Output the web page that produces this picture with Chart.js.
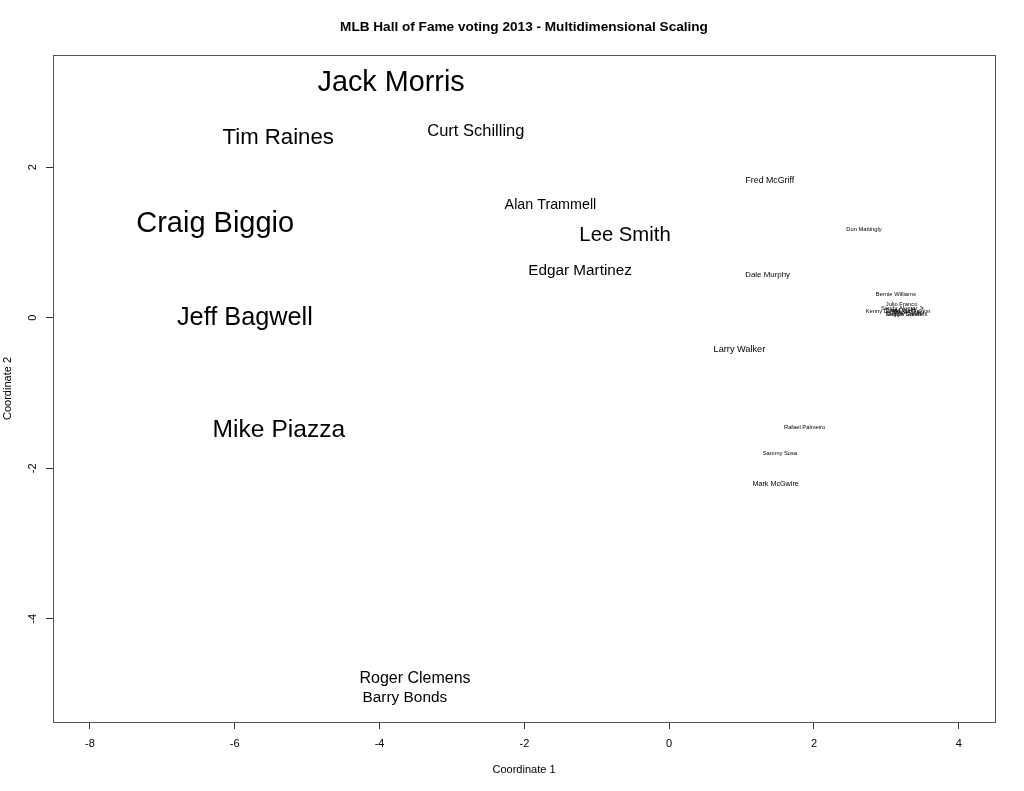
<!DOCTYPE html>
<html>
<head>
<meta charset="utf-8">
<title>MLB Hall of Fame voting 2013 - Multidimensional Scaling</title>
<script src="https://cdn.jsdelivr.net/npm/chart.js@4.4.1/dist/chart.umd.min.js"></script>
<style>
    html, body { margin: 0; padding: 0; background: #fff; }
    #wrap { width: 1024px; height: 791px; }
</style>
</head>
<body>
<div id="wrap"><canvas id="mdsChart" width="1024" height="791"></canvas></div>
<script>
// players on the 2013 ballot, MDS coordinates and vote share (%)
const players = [
    'Craig Biggio', 'Jack Morris', 'Jeff Bagwell', 'Mike Piazza', 'Tim Raines',
    'Lee Smith', 'Curt Schilling', 'Roger Clemens', 'Barry Bonds', 'Edgar Martinez',
    'Alan Trammell', 'Larry Walker', 'Fred McGriff', 'Dale Murphy', 'Mark McGwire',
    'Don Mattingly', 'Sammy Sosa', 'Rafael Palmeiro', 'Bernie Williams', 'Kenny Lofton',
    'Sandy Alomar Jr.', 'Julio Franco', 'David Wells', 'Steve Finley', 'Shawn Green',
    'Reggie Sanders', 'Royce Clayton'
];
const coord1 = [
    -6.27, -3.84, -5.86, -5.39, -5.40,
    -0.61, -2.67, -3.51, -3.65, -1.23,
    -1.64, 0.97, 1.39, 1.36, 1.47,
    2.69, 1.53, 1.87, 3.13, 2.95,
    3.23, 3.21, 3.20, 3.30, 3.24,
    3.28, 3.35
];
const coord2 = [
    1.29, 3.16, 0.03, -1.46, 2.42,
    1.12, 2.50, -4.77, -5.03, 0.65,
    1.51, -0.41, 1.83, 0.58, -2.20,
    1.18, -1.79, -1.45, 0.32, 0.09,
    0.13, 0.19, 0.11, 0.08, 0.05,
    0.05, 0.09
];
const votes = [
    68.2, 67.7, 59.6, 57.8, 52.2,
    47.8, 38.8, 37.6, 36.2, 35.9,
    33.6, 21.6, 20.7, 18.6, 16.9,
    13.2, 12.5, 8.8, 3.3, 3.2,
    2.8, 1.1, 0.9, 0.7, 0.4,
    0.2, 0.0
];
const xTicks = [-8, -6, -4, -2, 0, 2, 4];
const yTicks = [-4, -2, 0, 2];
const chartTitle = 'MLB Hall of Fame voting 2013 - Multidimensional Scaling';

const FONT = '"Liberation Sans", Arial, Helvetica, sans-serif';

// label size follows the vote share, with a floor for the small ones
function labelSize(v) {
    return Math.max(5.8, v * 0.425);
}

// draw names where the points are, the box around the plot and the title
const namePlugin = {
    id: 'names',
    afterDatasetsDraw(chart) {
        const ctx = chart.ctx;
        const meta = chart.getDatasetMeta(0);
        ctx.save();
        ctx.fillStyle = '#000';
        ctx.textAlign = 'center';
        ctx.textBaseline = 'middle';
        meta.data.forEach((pt, i) => {
            const size = labelSize(votes[i]);
            ctx.font = size.toFixed(1) + 'px ' + FONT;
            ctx.fillText(players[i], pt.x, pt.y + size * 0.1);
        });
        const a = chart.chartArea;
        ctx.strokeStyle = '#555';
        ctx.lineWidth = 1;
        ctx.strokeRect(a.left + 0.5, a.top + 0.5, a.right - a.left, a.bottom - a.top);

        // title centred over the plot region
        ctx.font = 'bold 13.6px ' + FONT;
        ctx.fillText(chartTitle, (a.left + a.right) / 2, 27);
        ctx.restore();
    }
};

const ctx = document.getElementById('mdsChart').getContext('2d');
new Chart(ctx, {
    type: 'scatter',
    data: {
        datasets: [{
            label: 'Players',
            data: players.map((p, i) => ({ x: coord1[i], y: coord2[i] })),
            pointRadius: 0,
            pointHoverRadius: 0
        }]
    },
    options: {
        responsive: false,
        animation: false,
        events: [],
        layout: { padding: { left: 0, right: 29, top: 55, bottom: 0 } },
        plugins: {
            legend: { display: false },
            tooltip: { enabled: false },
            title: { display: false }
        },
        scales: {
            x: {
                type: 'linear',
                min: -8.51,
                max: 4.50,
                afterBuildTicks: scale => { scale.ticks = xTicks.map(v => ({ value: v })); },
                afterFit: scale => { scale.height = 69; },
                ticks: {
                    color: '#000',
                    font: { family: FONT, size: 11 },
                    padding: 8,
                    maxRotation: 0
                },
                grid: {
                    drawOnChartArea: false,
                    drawTicks: true,
                    tickLength: 7,
                    color: '#333'
                },
                border: { display: false },
                title: {
                    display: true,
                    text: 'Coordinate 1',
                    color: '#000',
                    font: { family: FONT, size: 11 },
                    padding: { top: 0, bottom: 14 }
                }
            },
            y: {
                type: 'linear',
                min: -5.37,
                max: 3.49,
                afterBuildTicks: scale => { scale.ticks = yTicks.map(v => ({ value: v })); },
                afterFit: scale => { scale.width = 53; },
                ticks: {
                    color: '#000',
                    font: { family: FONT, size: 11 },
                    padding: 8,
                    minRotation: 90,
                    maxRotation: 90,
                    crossAlign: 'center'
                },
                grid: {
                    drawOnChartArea: false,
                    drawTicks: true,
                    tickLength: 7,
                    color: '#333'
                },
                border: { display: false },
                title: {
                    display: true,
                    text: 'Coordinate 2',
                    color: '#000',
                    font: { family: FONT, size: 11 },
                    padding: { top: 1, bottom: 0 }
                }
            }
        }
    },
    plugins: [namePlugin]
});
</script>
</body>
</html>
